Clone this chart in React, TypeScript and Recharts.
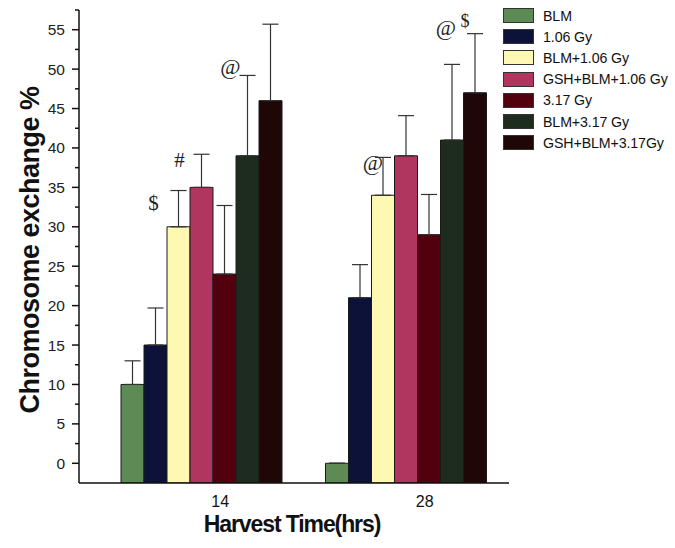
import React from 'react';
import { BarChart, Bar, XAxis, YAxis, ErrorBar } from 'recharts';

const categories = ['14', '28'];
const seriesNames = ['BLM', '1.06 Gy', 'BLM+1.06 Gy', 'GSH+BLM+1.06 Gy', '3.17 Gy', 'BLM+3.17 Gy', 'GSH+BLM+3.17Gy'];
const values14 = [10, 15, 30, 35, 24, 39, 46];
const values28 = [0, 21, 34, 39, 29, 41, 47];
const errors14 = [3, 4.7, 4.6, 4.2, 8.7, 10.2, 9.7];
const errors28 = [0, 4.2, 4.8, 5.1, 5.1, 9.6, 7.5];
const notes14 = ['', '', '$', '#', '', '@', ''];
const notes28 = ['', '', '@', '', '', '', '@$'];
const majorTicks = [0, 5, 10, 15, 20, 25, 30, 35, 40, 45, 50, 55];
const minorTicks = [2.5, 7.5, 12.5, 17.5, 22.5, 27.5, 32.5, 37.5, 42.5, 47.5, 52.5, 57.5];
const axisMin = -2.5;
const axisMax = 57.5;

const colors = ['#5d8a55', '#0d1338', '#fdf8b2', '#b0355f', '#53000e', '#1d2c1e', '#1f0707'];

const valuesByCat = [values14, values28];
const errorsByCat = [errors14, errors28];
const notesByCat = [notes14, notes28];

const data = categories.map((cat, ci) => {
  const row: any = { cat };
  seriesNames.forEach((_, si) => {
    row['v' + si] = [axisMin, valuesByCat[ci][si]];
    row['e' + si] = [0, errorsByCat[ci][si]];
  });
  return row;
});

const allTicks = [...majorTicks, ...minorTicks].sort((a, b) => a - b);

const TICK_SIZE = 6;
const TICK_MARGIN = 8;

// text placement of annotations relative to bar center / error cap
const noteOffsets: Record<string, { dx: number; dy: number }> = {
  '0-2': { dx: -25, dy: 12 },
  '0-3': { dx: -22, dy: 6 },
  '0-5': { dx: -17, dy: -9 },
  '1-2': { dx: -10, dy: 5 },
  '1-6': { dx: -29, dy: -6 },
};

const YTick = (props: any) => {
  const { x, y, payload } = props;
  const isMajor = majorTicks.includes(payload.value);
  const axisX = x + TICK_SIZE + TICK_MARGIN;
  return (
    <g>
      <line x1={axisX - (isMajor ? 7 : 4)} x2={axisX} y1={y} y2={y} stroke="#111" strokeWidth={1.5} />
      {isMajor && (
        <text x={x} y={y} textAnchor="end" dominantBaseline="central" fontFamily="Liberation Sans, Arial, sans-serif" fontSize={15.5} fill="#222">
          {payload.value}
        </text>
      )}
    </g>
  );
};

const XTick = (props: any) => {
  const { x, y, payload } = props;
  return (
    <text x={x + 18} y={y + 16} textAnchor="middle" dominantBaseline="central" fontFamily="Liberation Sans, Arial, sans-serif" fontSize={16} fill="#111">
      {payload.value}
    </text>
  );
};

const makeNoteLabel = (si: number) => (p: any) => {
  const ci = p.index;
  if (ci == null) return null;
  const note = notesByCat[ci][si];
  if (!note) return null;
  const v = valuesByCat[ci][si];
  const e = errorsByCat[ci][si];
  const h = Math.abs(p.height);
  const ppu = h / (v - axisMin);
  const capY = p.y - e * ppu;
  const cx = p.x + p.width / 2;
  const off = noteOffsets[ci + '-' + si] || { dx: -20, dy: 0 };
  const tx = cx + off.dx;
  const ty = capY + off.dy;
  const font = 'Liberation Serif, Times New Roman, serif';
  if (note === '@$') {
    return (
      <g key={'n' + ci + si}>
        <text x={tx} y={ty} textAnchor="middle" dominantBaseline="central" fontFamily={font} fontSize={22} fill="#222">@</text>
        <text x={tx + 19} y={ty - 7} textAnchor="middle" dominantBaseline="central" fontFamily={font} fontSize={18} fill="#222">$</text>
      </g>
    );
  }
  return (
    <text key={'n' + ci + si} x={tx} y={ty} textAnchor="middle" dominantBaseline="central" fontFamily={font} fontSize={note === '@' ? 22 : 21} fill="#222">
      {note}
    </text>
  );
};

export default function App() {
  return (
    <div style={{ position: 'absolute', left: 0, top: 0, width: 675, height: 548, background: '#fff' }}>
      <BarChart
        width={675}
        height={548}
        data={data}
        margin={{ top: 10, right: 166, left: 0, bottom: 0 }}
        barCategoryGap={21}
        barGap={0}
      >
        <XAxis
          dataKey="cat"
          height={65}
          padding={{ left: 21, right: 0 }}
          tickLine={false}
          tickSize={0}
          axisLine={{ stroke: '#111', strokeWidth: 1.5 }}
          tick={<XTick />}
          interval={0}
        />
        <YAxis
          type="number"
          width={79}
          domain={[axisMin, axisMax]}
          ticks={allTicks}
          interval={0}
          tickSize={TICK_SIZE}
          tickMargin={TICK_MARGIN}
          tickLine={false}
          allowDataOverflow
          axisLine={{ stroke: '#111', strokeWidth: 1.5 }}
          tick={<YTick />}
        />
        {seriesNames.map((name, si) => (
          <Bar
            key={name}
            name={name}
            dataKey={'v' + si}
            fill={colors[si]}
            stroke="#1a1a1a"
            strokeWidth={1}
            isAnimationActive={false}
            label={makeNoteLabel(si)}
          >
            <ErrorBar dataKey={'e' + si} width={8} stroke="#333" strokeWidth={1.2} direction="y" />
          </Bar>
        ))}
      </BarChart>

      <div
        style={{
          position: 'absolute',
          left: 30 - 200,
          top: 250 - 18,
          width: 400,
          height: 36,
          lineHeight: '36px',
          textAlign: 'center',
          transform: 'rotate(-90deg)',
          fontFamily: 'Liberation Sans, Arial, sans-serif',
          fontWeight: 'bold',
          fontSize: 27,
          letterSpacing: -0.5,
          color: '#111',
          whiteSpace: 'nowrap',
        }}
      >
        Chromosome exchange %
      </div>

      <div
        style={{
          position: 'absolute',
          left: 292 - 150,
          top: 524 - 15,
          width: 300,
          height: 30,
          lineHeight: '30px',
          textAlign: 'center',
          fontFamily: 'Liberation Sans, Arial, sans-serif',
          fontWeight: 'bold',
          fontSize: 23,
          letterSpacing: -1.1,
          color: '#111',
          whiteSpace: 'nowrap',
        }}
      >
        Harvest Time(hrs)
      </div>

      <div style={{ position: 'absolute', left: 503, top: 5 }}>
        {seriesNames.map((name, si) => (
          <div key={name} style={{ display: 'flex', alignItems: 'center', height: 21.2 }}>
            <div style={{ width: 31, height: 15, background: colors[si], border: '1px solid #333', boxSizing: 'border-box' }} />
            <span style={{ marginLeft: 9, fontFamily: 'Liberation Sans, Arial, sans-serif', fontSize: 14.2, letterSpacing: -0.1, color: '#111', whiteSpace: 'nowrap' }}>
              {name}
            </span>
          </div>
        ))}
      </div>
    </div>
  );
}
